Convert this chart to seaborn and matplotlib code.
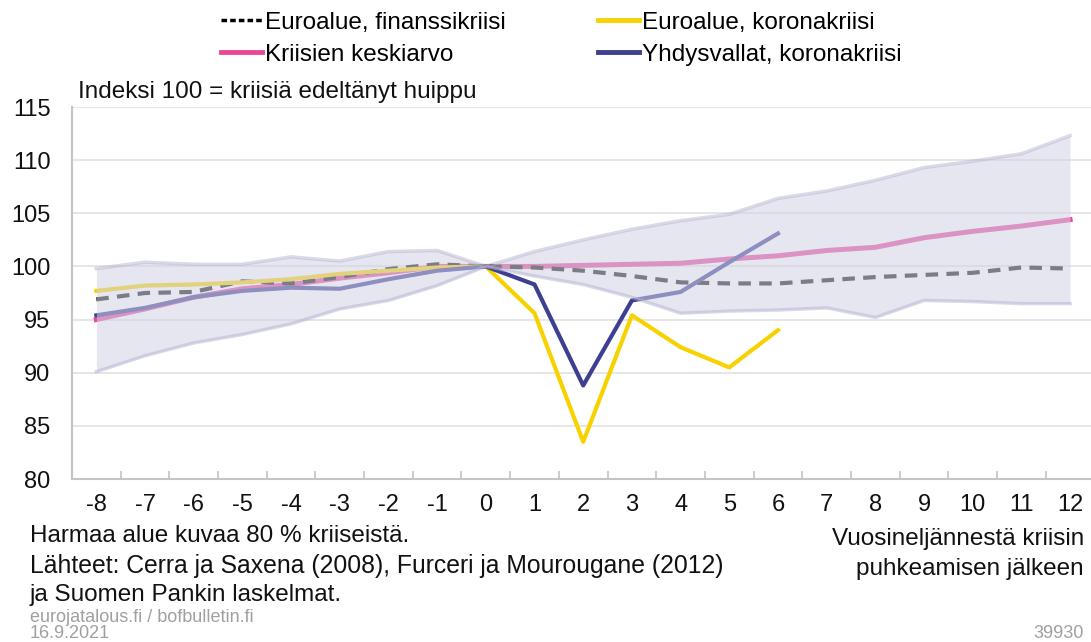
import numpy as np
import pandas as pd
import matplotlib
matplotlib.use("Agg")
import matplotlib.pyplot as plt
import seaborn as sns
from matplotlib.lines import Line2D

# données (indice 100 = pic avant la crise)
neljannes = list(range(-8, 13))

euro_finanssi = [96.9, 97.5, 97.6, 98.6, 98.4, 99.0, 99.75, 100.2, 100.0,
                 99.9, 99.6, 99.1, 98.5, 98.4, 98.4, 98.7, 99.0, 99.2, 99.4, 99.9, 99.8]
keskiarvo = [95.0, 96.0, 97.1, 97.9, 98.3, 98.9, 99.4, 100.0, 100.0,
             100.0, 100.1, 100.2, 100.3, 100.7, 101.0, 101.5, 101.8, 102.7, 103.3, 103.8, 104.4]
euro_korona = [97.7, 98.2, 98.3, 98.5, 98.8, 99.3, 99.6, 99.9, 100.0,
               95.6, 83.5, 95.4, 92.4, 90.5, 94.0]
usa_korona = [95.4, 96.1, 97.1, 97.7, 98.0, 97.9, 98.8, 99.6, 100.0,
              98.3, 88.8, 96.8, 97.6, 100.4, 103.1]
alue_ylä = [99.8, 100.4, 100.2, 100.2, 100.9, 100.5, 101.4, 101.5, 100.0,
            101.4, 102.5, 103.5, 104.3, 104.9, 106.4, 107.1, 108.1, 109.3, 109.9, 110.6, 112.3]
alue_ala = [90.1, 91.6, 92.8, 93.6, 94.6, 96.0, 96.8, 98.2, 100.0,
            99.1, 98.3, 97.1, 95.6, 95.8, 95.9, 96.1, 95.2, 96.8, 96.7, 96.5, 96.5]

y_ticks = [80, 85, 90, 95, 100, 105, 110, 115]

# couleurs
c_dash = "#141414"
c_pink = "#e8479a"
c_yellow = "#f7d200"
c_navy = "#3d3f90"
c_band = "#d2d2e6"

W, H = 1091, 642
plt.rcParams["font.family"] = ["Liberation Sans", "DejaVu Sans"]
plt.rcParams["axes.unicode_minus"] = False
fig = plt.figure(figsize=(W / 100, H / 100), dpi=100)
ax = fig.add_axes([72 / W, 1 - 479 / H, (1091 - 72) / W, (479 - 107) / H])

df_fin = pd.DataFrame({"q": neljannes, "v": euro_finanssi})
df_ka = pd.DataFrame({"q": neljannes, "v": keskiarvo})
df_eur = pd.DataFrame({"q": neljannes[:len(euro_korona)], "v": euro_korona})
df_usa = pd.DataFrame({"q": neljannes[:len(usa_korona)], "v": usa_korona})

sns.lineplot(data=df_ka, x="q", y="v", ax=ax, color=c_pink, lw=3.6, zorder=2)
sns.lineplot(data=df_fin, x="q", y="v", ax=ax, color=c_dash, lw=3, zorder=2,
             dashes=False, linestyle=(0, (3, 2)))
sns.lineplot(data=df_eur, x="q", y="v", ax=ax, color=c_yellow, lw=3, zorder=2)
sns.lineplot(data=df_usa, x="q", y="v", ax=ax, color=c_navy, lw=3, zorder=2)

# la zone grise est dessinée au-dessus des courbes (transparente)
ax.fill_between(neljannes, alue_ala, alue_ylä, color=c_band, alpha=0.55, lw=0, zorder=3)
ax.plot(neljannes, alue_ylä, color="#b4b4d2", alpha=0.5, lw=2.5, zorder=3)
ax.plot(neljannes, alue_ala, color="#b4b4d2", alpha=0.5, lw=2.5, zorder=3)

ax.set_xlim(-8.5, 12.43)
ax.set_ylim(80, 115)
ax.set_yticks(y_ticks)
ax.set_xticks(neljannes)
ax.set_xticks(np.arange(-7.5, 12.5, 1), minor=True)
ax.set_xlabel("")
ax.set_ylabel("")
ax.grid(axis="y", color="#e2e2e2", lw=1.2, zorder=0)
ax.set_axisbelow(True)
for s in ["top", "right"]:
    ax.spines[s].set_visible(False)
for s in ["left", "bottom"]:
    ax.spines[s].set_color("#c4c4c4")
    ax.spines[s].set_linewidth(1.5)
ax.tick_params(axis="y", length=0, pad=15.5, labelsize=17, labelcolor="#111111")
ax.tick_params(axis="x", which="major", length=0, pad=11, labelsize=17, labelcolor="#111111")
ax.tick_params(axis="x", which="minor", length=6, direction="in", color="#c4c4c4", width=1.2)

# légende
handles = [
    Line2D([], [], color="black", lw=2.5, linestyle=(0, (1.6, 0.9))),
    Line2D([], [], color=c_pink, lw=3.5),
    Line2D([], [], color=c_yellow, lw=3.5),
    Line2D([], [], color=c_navy, lw=3.5),
]
labels = ["Euroalue, finanssikriisi", "Kriisien keskiarvo",
          "Euroalue, koronakriisi", "Yhdysvallat, koronakriisi"]
fig.legend(handles, labels, ncol=2, loc="upper left", bbox_to_anchor=(211 / W, 1 - 2 / H),
           frameon=False, fontsize=17.5, handlelength=1.7, handletextpad=0.12,
           columnspacing=3.8, labelspacing=0.41, borderaxespad=0)

def ftext(x, y, s, **kw):
    fig.text(x / W, 1 - y / H, s, va="center", **kw)

ftext(78, 92, "Indeksi 100 = kriisiä edeltänyt huippu", fontsize=17.5, color="#111111")
ftext(30, 536, "Harmaa alue kuvaa 80 % kriiseistä.", fontsize=17.5, color="#111111")
ftext(30, 566, "Lähteet: Cerra ja Saxena (2008), Furceri ja Mourougane (2012)", fontsize=17.8, color="#111111")
ftext(30, 595, "ja Suomen Pankin laskelmat.", fontsize=17.5, color="#111111")
ftext(1084, 539, "Vuosineljännestä kriisin", fontsize=17.5, color="#111111", ha="right")
ftext(1084, 569, "puhkeamisen jälkeen", fontsize=17.5, color="#111111", ha="right")
ftext(30, 618, "eurojatalous.fi / bofbulletin.fi", fontsize=13, color="#a0a0a0")
ftext(30, 634, "16.9.2021", fontsize=13, color="#a0a0a0")
ftext(1084, 634, "39930", fontsize=13, color="#a0a0a0", ha="right")

fig.savefig("out.png", dpi=100)
